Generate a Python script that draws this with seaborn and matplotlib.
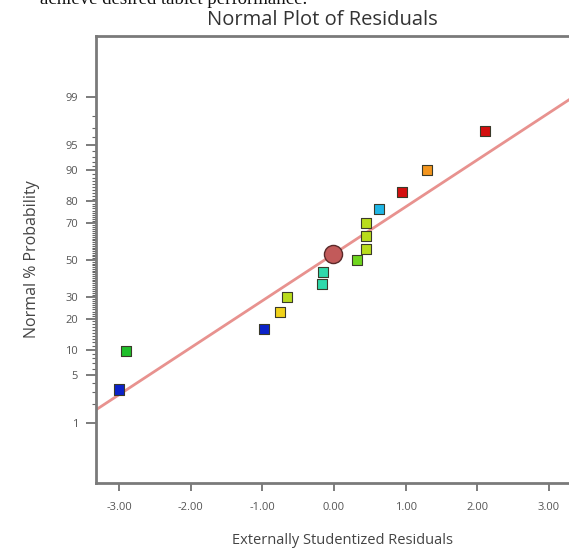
import matplotlib
matplotlib.use("Agg")
import matplotlib.pyplot as plt
import seaborn as sns
import pandas as pd
from statistics import NormalDist

# Residuals (x) and their normal % probability (y), with the colour band of each run
residuals = [-3.00, -2.90, -0.98, -0.75, -0.66, -0.17, -0.15, 0.32,
             0.45, 0.45, 0.45, 0.63, 0.95, 1.30, 2.11]
probability = [3.2, 9.7, 16.2, 22.9, 29.8, 36.6, 43.2, 50.0,
               56.2, 63.4, 70.2, 76.7, 83.4, 90.1, 96.7]
band = ["blue", "green", "blue", "yellow", "olive", "teal", "teal", "lime",
        "olive", "olive", "olive", "cyan", "red", "orange", "red"]

# Highlighted run
sel_residual = [-0.01]
sel_probability = [53.4]

# Reference line end points
line_x = [-3.32, 3.50]
line_p = [1.62, 99.26]

y_ticks = [1, 5, 10, 20, 30, 50, 70, 80, 90, 95, 99]
x_ticks = [-3, -2, -1, 0, 1, 2, 3]

palette = {
    "blue": "#0b22c9",
    "green": "#1fbf2a",
    "lime": "#6fd61e",
    "yellow": "#f0d21a",
    "olive": "#b9dc1c",
    "teal": "#2fd9ab",
    "cyan": "#1fb6e6",
    "red": "#d40f0f",
    "orange": "#f3951e",
}

nd = NormalDist()


def to_z(p):
    return nd.inv_cdf(p / 100.0)


df = pd.DataFrame({
    "residual": residuals,
    "z": [to_z(p) for p in probability],
    "band": band,
})
sel = pd.DataFrame({"residual": sel_residual, "z": [to_z(p) for p in sel_probability]})
line = pd.DataFrame({"residual": line_x, "z": [to_z(p) for p in line_p]})

sns.set_style("white")
plt.rcParams["font.family"] = ["Open Sans", "DejaVu Sans"]

fig = plt.figure(figsize=(5.69, 5.50), dpi=100)
ax = fig.add_axes([96 / 569, 1 - 483 / 550, (590 - 96) / 569, (483 - 36) / 550])

sns.lineplot(data=line, x="residual", y="z", ax=ax, color="#e8928f",
             linewidth=2.0, zorder=2)
sns.scatterplot(data=df, x="residual", y="z", hue="band", palette=palette,
                marker="s", s=55, edgecolor="#3a3a2a", linewidth=0.8,
                legend=False, ax=ax, zorder=3)
sns.scatterplot(data=sel, x="residual", y="z", marker="o", s=170,
                color="#c25a5a", edgecolor="#5a2a2a", linewidth=1.0,
                legend=False, ax=ax, zorder=4)

ax.set_xlim(-3.321, (590 - 334) / 71.67)
ax.set_ylim(-3.186, 3.2)

ax.set_xticks(x_ticks)
ax.set_xticklabels([f"{v:.2f}" for v in x_ticks])
ax.set_yticks([to_z(p) for p in y_ticks])
ax.set_yticklabels([str(p) for p in y_ticks])
ax.set_yticks([to_z(p) for p in range(1, 100) if p not in y_ticks], minor=True)

ax.tick_params(axis="x", which="major", direction="out", length=6, width=1.2,
               color="#666666", labelsize=8, labelcolor="#555555", pad=8, bottom=True)
ax.tick_params(axis="y", which="major", direction="out", length=7, width=1.2,
               color="#666666", labelsize=8, labelcolor="#555555", pad=6, left=True)
ax.tick_params(axis="y", which="minor", direction="out", length=3, width=0.8,
               color="#666666", left=True)

for side in ["left", "bottom", "top", "right"]:
    ax.spines[side].set_color("#7a7a7a")
    ax.spines[side].set_linewidth(2.0)

ax.set_xlabel("Externally Studentized Residuals", fontsize=10.5, color="#444444",
              labelpad=14)
ax.set_ylabel("Normal % Probability", fontsize=11.5, color="#444444", labelpad=18)

fig.text(322 / 569, 1 - 20 / 550, "Normal Plot of Residuals", ha="center",
         va="center", fontsize=14.5, color="#333333")
fig.text(40 / 569, 1 - 4 / 550, "achieve desired tablet performance.",
         ha="left", va="baseline", fontsize=13.5, color="#111111",
         family=["Liberation Serif", "DejaVu Serif"])

fig.savefig("out.png", dpi=100)
